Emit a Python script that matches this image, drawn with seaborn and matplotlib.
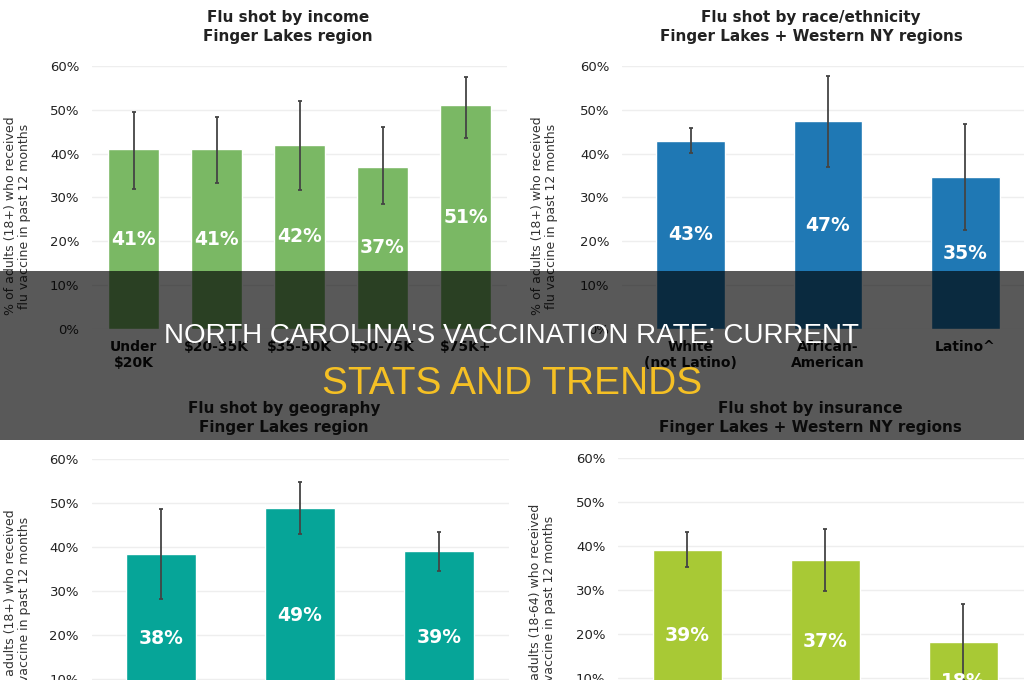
import numpy as np
import matplotlib
matplotlib.use("Agg")
import matplotlib.pyplot as plt
import seaborn as sns
from matplotlib.patches import Rectangle

# flu shot by income, Finger Lakes
income_cats = ["Under\n$20K", "$20-35K", "$35-50K", "$50-75K", "$75K+"]
income_vals = [41, 41, 42, 37, 51]
income_low = [32, 33.3, 31.7, 28.5, 43.6]
income_high = [49.6, 48.3, 52, 46.1, 57.6]

# by race/ethnicity
race_cats = ["White\n(not Latino)", "African-\nAmerican", "Latino^"]
race_vals = [43, 47.4, 34.6]
race_low = [40.2, 37, 22.6]
race_high = [45.8, 57.7, 46.8]

# by geography
geo_cats = ["Urban", "Suburban", "Rural"]
geo_vals = [38.4, 48.8, 39]
geo_low = [28.2, 43, 34.5]
geo_high = [48.6, 54.7, 43.4]

# by insurance
ins_cats = ["Private", "Public", "Uninsured"]
ins_vals = [39.1, 36.8, 18.2]
ins_low = [35.2, 29.8, 9.5]
ins_high = [43.1, 43.9, 26.8]

sns.set_style("white")
plt.rcParams["font.family"] = ["DejaVu Sans"]

W, H = 1024, 680
fig = plt.figure(figsize=(W / 100, H / 100), dpi=100)


def px_rect(left, top, right, bottom):
    return [left / W, (H - bottom) / H, (right - left) / W, (bottom - top) / H]


def panel(rect, cats, vals, low, high, color, width):
    ax = fig.add_axes(rect)
    sns.barplot(x=cats, y=vals, color=color, saturation=1, width=width, ax=ax)
    vals_a = np.array(vals)
    err = [vals_a - np.array(low), np.array(high) - vals_a]
    ax.errorbar(range(len(cats)), vals, yerr=err, fmt="none",
                ecolor="#444444", elinewidth=1.3, capsize=1.5, capthick=1.3)
    for i, v in enumerate(vals):
        ax.text(i, v / 2, f"{v:.0f}%", ha="center", va="center",
                color="white", fontsize=13.5, fontweight="bold")
    ax.set_xlim(-0.5, len(cats) - 0.5)
    ax.set_ylim(0, 60)
    ticks = list(range(0, 61, 10))
    ax.set_yticks(ticks)
    ax.set_yticklabels([f"{t}%" for t in ticks])
    ax.yaxis.grid(True, color="#eeeeee", lw=1)
    ax.set_axisbelow(True)
    sns.despine(ax=ax, left=True, bottom=True)
    ax.tick_params(axis="y", length=0, pad=9, labelsize=9.5, labelcolor="#222222")
    ax.tick_params(axis="x", length=0, pad=8, labelsize=10, labelcolor="#111111")
    for lab in ax.get_xticklabels():
        lab.set_fontweight("bold")
    ax.set_xlabel("")
    ax.set_ylabel("")
    return ax


panel(px_rect(92, 66, 507, 329), income_cats, income_vals, income_low, income_high, "#7ab864", 0.62)
panel(px_rect(622, 66, 1034, 329), race_cats, race_vals, race_low, race_high, "#1f78b4", 0.5)
panel(px_rect(91.5, 459, 508.5, 723), geo_cats, geo_vals, geo_low, geo_high, "#06a598", 0.5)
panel(px_rect(618, 458, 1032, 722), ins_cats, ins_vals, ins_low, ins_high, "#a8c935", 0.5)

titles = [
    (288, 27, "Flu shot by income\nFinger Lakes region"),
    (811, 27, "Flu shot by race/ethnicity\nFinger Lakes + Western NY regions"),
    (284, 418, "Flu shot by geography\nFinger Lakes region"),
    (810, 418, "Flu shot by insurance\nFinger Lakes + Western NY regions"),
]
for x, y, t in titles:
    fig.text(x / W, 1 - y / H, t, ha="center", va="center", fontsize=11,
             fontweight="bold", color="#222222", linespacing=1.3)

ylabels = [
    (18, 216, "% of adults (18+) who received\nflu vaccine in past 12 months"),
    (545, 216, "% of adults (18+) who received\nflu vaccine in past 12 months"),
    (18, 609, "% of adults (18+) who received\nflu vaccine in past 12 months"),
    (543, 608, "% of adults (18-64) who received\nflu vaccine in past 12 months"),
]
for x, y, t in ylabels:
    fig.text(x / W, 1 - y / H, t, ha="center", va="center", rotation=90,
             fontsize=9, color="#333333", linespacing=1.1)

# dark banner over the middle
fig.add_artist(Rectangle((0, 1 - 440 / H), 1, (440 - 271) / H,
                         transform=fig.transFigure, facecolor="black",
                         alpha=0.65, edgecolor="none", zorder=10))
fig.text(0.5, 1 - 343 / H, "NORTH CAROLINA'S VACCINATION RATE: CURRENT",
         ha="center", va="baseline", fontsize=20, color="white",
         family=["Liberation Sans", "DejaVu Sans"], zorder=11)
fig.text(0.5, 1 - 394 / H, "STATS AND TRENDS",
         ha="center", va="baseline", fontsize=28, color="#f5c024",
         family=["Liberation Sans", "DejaVu Sans"], zorder=11)

fig.savefig("out.png", dpi=100)
